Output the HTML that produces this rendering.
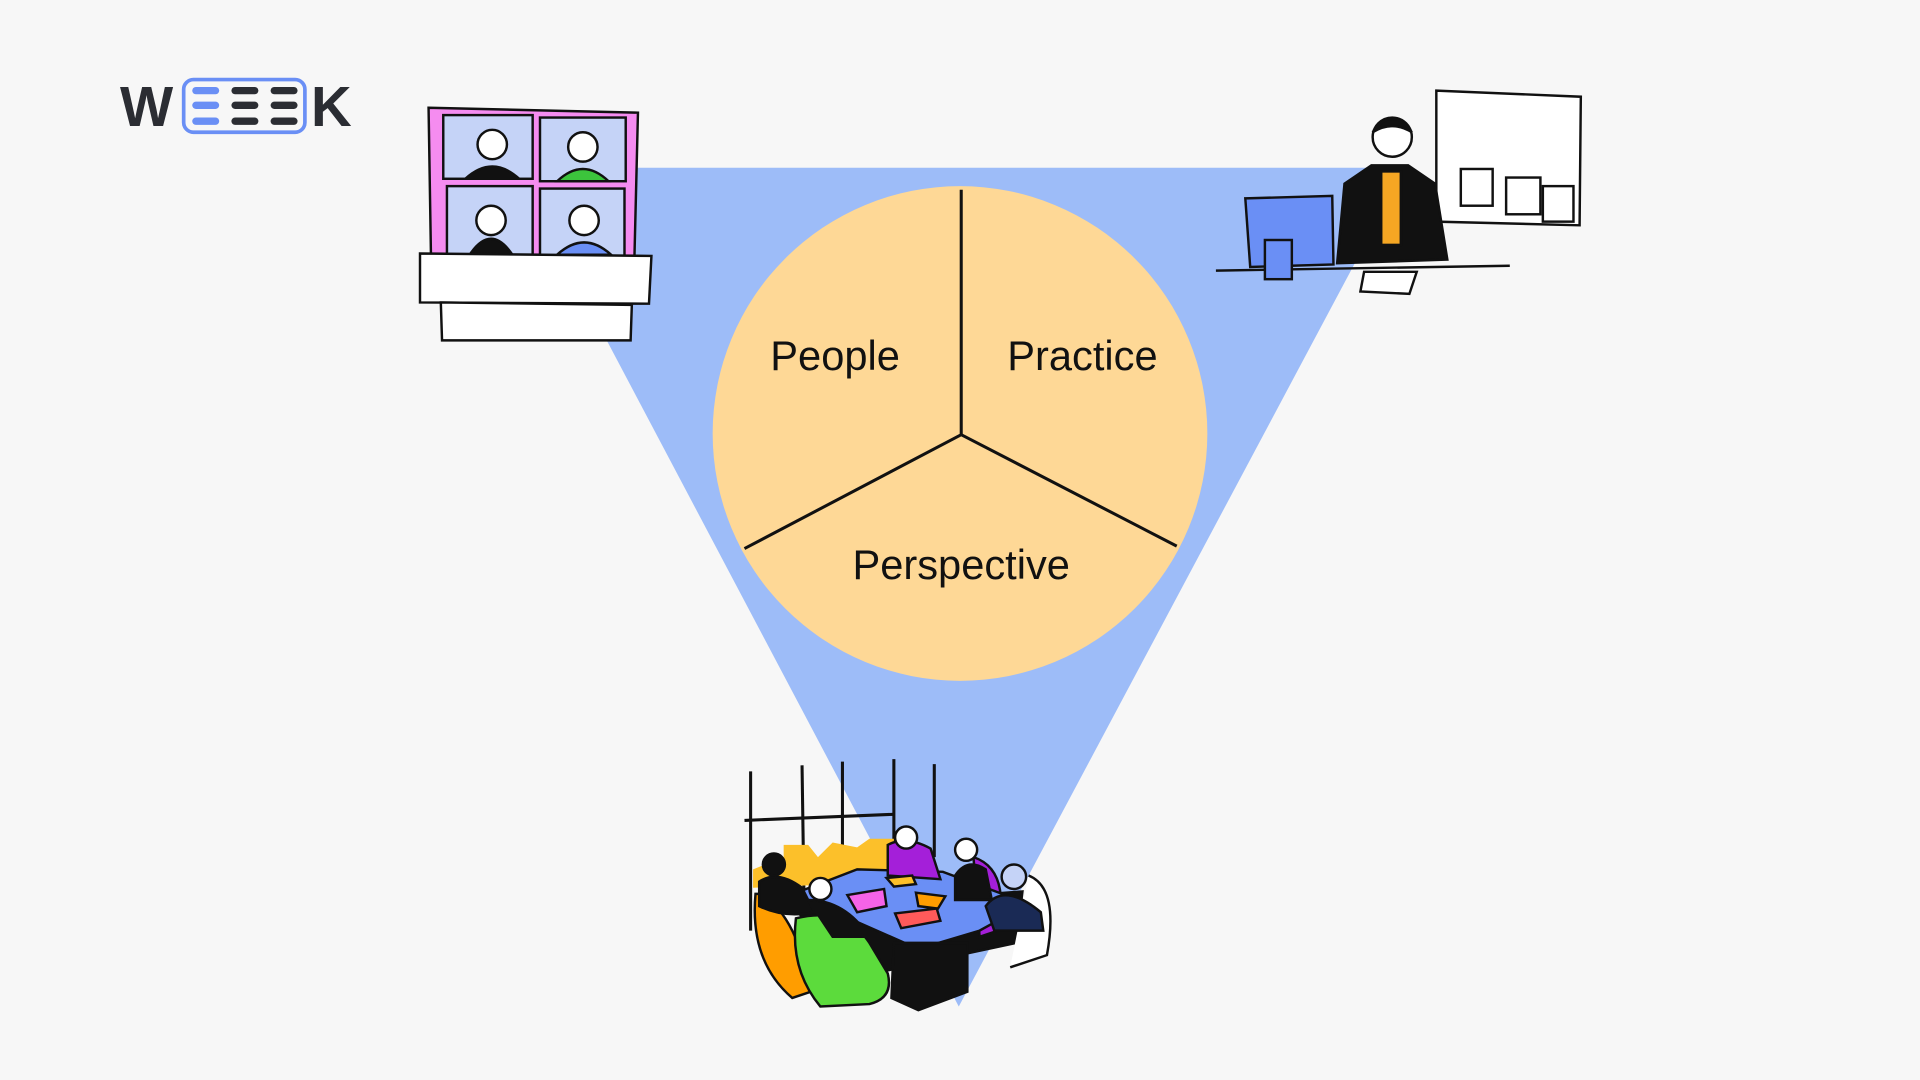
<!DOCTYPE html>
<html><head><meta charset="utf-8"><style>
html,body{margin:0;padding:0;background:#f7f7f7;width:1920px;height:1080px;overflow:hidden}
svg{display:block}
text{font-family:"Liberation Sans",sans-serif}
</style></head><body>
<svg width="1920" height="1080" viewBox="0 0 1568 882" xmlns="http://www.w3.org/2000/svg">
<rect width="1568" height="882" fill="#f7f7f7"/>
<polygon points="421,137 1148,137 783,822" fill="#9dbcf8"/>
<circle cx="784" cy="354" r="202" fill="#fed896"/>
<g stroke="#111" stroke-width="2.5" fill="none">
<line x1="785" y1="155" x2="785" y2="355"/>
<line x1="785" y1="355" x2="608" y2="448"/>
<line x1="785" y1="355" x2="961" y2="446"/>
</g>
<g font-size="34" fill="#111" text-anchor="middle">
<text x="682" y="302">People</text>
<text x="884" y="302">Practice</text>
<text x="785" y="473">Perspective</text>
</g>
<g>
<text x="98" y="103" font-size="46" font-weight="bold" fill="#2b2d33">W</text>
<rect x="150" y="65" width="99" height="43" rx="8" fill="none" stroke="#6a8ff5" stroke-width="3"/>
<g stroke-linecap="round" stroke-width="6">
<g stroke="#6a8ff5"><line x1="160" y1="74" x2="176" y2="74"/><line x1="160" y1="86" x2="176" y2="86"/><line x1="160" y1="99" x2="176" y2="99"/></g>
<g stroke="#2b2d33"><line x1="192" y1="74" x2="208" y2="74"/><line x1="192" y1="86" x2="208" y2="86"/><line x1="192" y1="99" x2="208" y2="99"/>
<line x1="224" y1="74" x2="240" y2="74"/><line x1="224" y1="86" x2="240" y2="86"/><line x1="224" y1="99" x2="240" y2="99"/></g>
</g>
<text x="254" y="103" font-size="46" font-weight="bold" fill="#2b2d33">K</text>
</g>
<g stroke="#111" stroke-width="2">
<polygon points="350,88 521,92 518,215 352,212" fill="#f58cf0"/>
<rect x="362" y="94" width="73" height="52" fill="#c5d3f7"/>
<rect x="441" y="96" width="70" height="52" fill="#c5d3f7"/>
<rect x="365" y="152" width="70" height="56" fill="#c5d3f7"/>
<rect x="441" y="154" width="69" height="56" fill="#c5d3f7"/>
<circle cx="402" cy="118" r="12" fill="#fff"/><path d="M380,146 q22,-20 44,0z" fill="#111"/>
<circle cx="476" cy="120" r="12" fill="#fff"/><path d="M455,148 q21,-20 42,0z" fill="#3cc43c"/>
<circle cx="401" cy="180" r="12" fill="#fff"/><path d="M385,206 q16,-22 32,0z" fill="#111"/>
<circle cx="477" cy="180" r="12" fill="#fff"/><path d="M455,208 q22,-20 44,0z" fill="#6a8ff5"/>
<path d="M343,207 L532,209 L530,248 L343,247 Z" fill="#fff"/>
<path d="M360,247 L516,249 L515,278 L361,278 Z" fill="#fff"/>
</g>
<g stroke="#111" stroke-width="2">
<polygon points="1173,74 1291,79 1290,184 1173,181" fill="#fff"/>
<rect x="1193" y="138" width="26" height="30" fill="#fff"/>
<rect x="1230" y="145" width="28" height="30" fill="#fff"/>
<rect x="1260" y="152" width="25" height="29" fill="#fff"/>
<line x1="993" y1="221" x2="1233" y2="217"/>
<polygon points="1017,162 1088,160 1089,216 1021,218" fill="#6a8ff5"/>
<rect x="1033" y="196" width="22" height="32" fill="#6a8ff5"/>
<path d="M1092,215 L1098,150 L1120,135 L1150,135 L1172,150 L1182,212 Z" fill="#111"/>
<rect x="1128" y="140" width="16" height="60" fill="#f5a623"/>
<circle cx="1137" cy="112" r="16" fill="#fff"/>
<path d="M1121,108 q16,-22 32,0 q-16,-10 -32,0z" fill="#111"/>
<polygon points="1114,222 1157,222 1151,240 1111,238" fill="#fff"/>
</g>
<g stroke="#111" stroke-width="2">
<g stroke-width="2.5"><line x1="613" y1="630" x2="613" y2="760"/><line x1="655" y1="625" x2="657" y2="760"/><line x1="688" y1="622" x2="688" y2="720"/><line x1="730" y1="620" x2="730" y2="720"/><line x1="763" y1="624" x2="763" y2="700"/><line x1="608" y1="670" x2="730" y2="665"/></g>
<path d="M615,710 L640,700 L640,690 L660,690 L668,700 L680,688 L700,692 L710,685 L730,685 L730,720 L615,725Z" fill="#fcc02a" stroke="none"/>
<path d="M622,730 q30,20 40,80 l-15,5 q-35,-30 -30,-85z" fill="#ff9d00"/>
<path d="M650,742 L835,728 L830,770 L690,800Z" fill="#111"/>
<path d="M795,700 q30,10 20,60 l-15,5z" fill="#a41fd9"/>
<path d="M840,715 q25,10 15,65 l-30,10" fill="#fff"/>
<path d="M648,730 L700,710 L770,712 L840,738 L800,760 L750,775 Z" fill="#6a8ff5"/>
<path d="M730,770 L790,770 L790,810 L750,825 L728,815Z" fill="#111"/>
<path d="M650,750 q40,-10 60,20 l15,25 q5,20 -15,25 l-40,2 q-25,-30 -20,-72z" fill="#5cdb3c"/>
<path d="M620,720 q15,-10 35,5 l10,20 q-25,5 -45,-5z" fill="#111"/>
<circle cx="632" cy="706" r="9" fill="#111"/>
<path d="M660,735 q30,0 50,30 l-30,0z" fill="#111"/>
<circle cx="670" cy="726" r="9" fill="#fff"/>
<path d="M725,690 q15,-8 35,3 l8,25 l-43,-3z" fill="#a41fd9"/>
<circle cx="740" cy="684" r="9" fill="#fff"/>
<path d="M780,715 q10,-15 25,-5 l5,25 l-30,0z" fill="#111"/>
<circle cx="789" cy="694" r="9" fill="#fff"/>
<path d="M805,740 q15,-20 45,5 l2,15 l-40,0z" fill="#1a2a55"/>
<circle cx="828" cy="716" r="10" fill="#c5d3f7"/>
<polygon points="692,731 722,726 724,740 700,745" fill="#f563e8"/>
<polygon points="748,729 772,732 766,742 750,740" fill="#ff9d00"/>
<polygon points="724,717 745,715 748,722 730,724" fill="#fcc02a"/>
<polygon points="731,746 765,742 768,752 736,758" fill="#ff5a5a"/>
</g>
</svg>
</body></html>
